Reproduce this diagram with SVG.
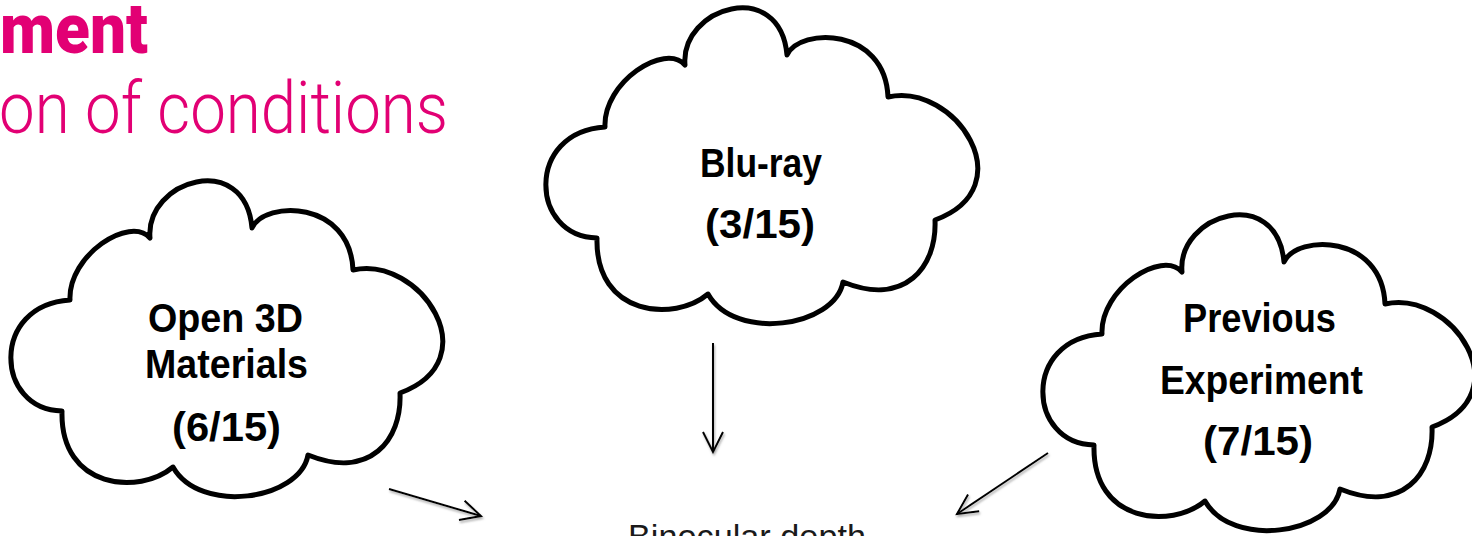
<svg xmlns="http://www.w3.org/2000/svg" xmlns:xlink="http://www.w3.org/1999/xlink" width="1472" height="536" viewBox="0 0 1472 536">
<style>
.title-b{font-family:Roboto,"Liberation Sans",Arial,sans-serif;font-weight:900;fill:#E20074;}
.title-l{font-family:Roboto,"Liberation Sans",Arial,sans-serif;font-weight:300;fill:#E20074;}
.cloud{fill:#fff;stroke:#000;stroke-width:5;stroke-linejoin:round;stroke-linecap:round;}
.lbl{font-family:"Liberation Sans",Arial,sans-serif;font-weight:700;font-size:40px;fill:#000;}
.conn{stroke:#000;stroke-width:2;fill:none;filter:url(#sh);}
.bottom{font-family:"Liberation Sans",Arial,sans-serif;font-size:34px;fill:#1a1a1a;}
</style>
<defs>
<filter id="sh" filterUnits="userSpaceOnUse" x="0" y="0" width="1472" height="536">
<feDropShadow dx="1" dy="2" stdDeviation="1" flood-color="#777" flood-opacity="0.6"/>
</filter>
<marker id="arr" markerUnits="userSpaceOnUse" markerWidth="24" markerHeight="24" refX="20" refY="10" orient="auto" overflow="visible">
<path d="M0,0 L20,10 L0,20" fill="none" stroke="#000" stroke-width="2"/>
</marker>
<path id="cloudShape" d="M70,300 C68,255 130,215 150,238 C145,180 245,150 252,228 C265,200 350,200 353,270 C420,255 490,360 400,393 C402,440 370,480 308,455 C300,500 200,515 173,467 C140,495 60,490 62,411 C-5,410 -10,305 70,300 Z"/>
</defs>
<rect width="1472" height="536" fill="#fff"/>
<g id="title">
<text class="title-b" x="0" y="53" font-size="70" textLength="148" lengthAdjust="spacingAndGlyphs">ment</text>
<text class="title-l" x="-1" y="133" font-size="72" textLength="449" lengthAdjust="spacingAndGlyphs">on of conditions</text>
</g>
<g id="connectors">
<line class="conn" x1="389" y1="489" x2="481" y2="516" marker-end="url(#arr)"/>
<line class="conn" x1="713" y1="343" x2="713" y2="452" marker-end="url(#arr)"/>
<line class="conn" x1="1048" y1="453" x2="957" y2="514" marker-end="url(#arr)"/>
</g>
<g id="node-open3d">
<use xlink:href="#cloudShape" class="cloud"/>
<text class="lbl" x="148" y="332" textLength="155" lengthAdjust="spacingAndGlyphs">Open 3D</text>
<text class="lbl" x="145" y="378" textLength="163" lengthAdjust="spacingAndGlyphs">Materials</text>
<text class="lbl" x="172" y="441" textLength="109" lengthAdjust="spacingAndGlyphs">(6/15)</text>
</g>
<g id="node-bluray">
<use xlink:href="#cloudShape" class="cloud" transform="translate(535,-173)"/>
<text class="lbl" x="700" y="177" textLength="122" lengthAdjust="spacingAndGlyphs">Blu-ray</text>
<text class="lbl" x="705" y="238" textLength="110" lengthAdjust="spacingAndGlyphs">(3/15)</text>
</g>
<g id="node-previous">
<use xlink:href="#cloudShape" class="cloud" transform="translate(1032,34)"/>
<text class="lbl" x="1183" y="332" textLength="153" lengthAdjust="spacingAndGlyphs">Previous</text>
<text class="lbl" x="1160" y="394" textLength="203" lengthAdjust="spacingAndGlyphs">Experiment</text>
<text class="lbl" x="1203" y="455" textLength="110" lengthAdjust="spacingAndGlyphs">(7/15)</text>
</g>
<g id="node-binocular">
<text class="bottom" x="628" y="548" textLength="238" lengthAdjust="spacingAndGlyphs">Binocular depth</text>
</g>
</svg>
